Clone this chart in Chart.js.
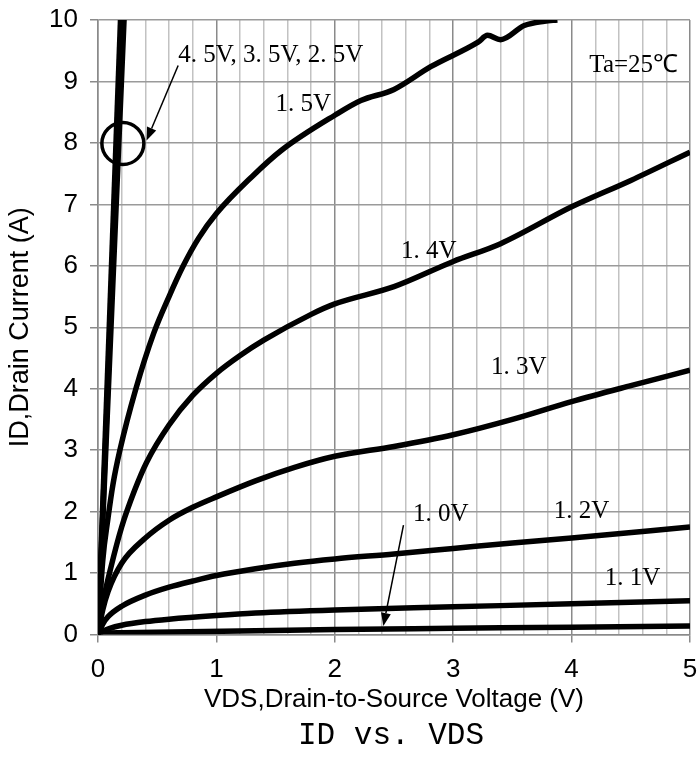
<!DOCTYPE html>
<html>
<head>
<meta charset="utf-8">
<script src="https://cdn.jsdelivr.net/npm/chart.js@4.4.1/dist/chart.umd.min.js"></script>
<style>
  body { margin: 0; background: #fff; }
  canvas { display: block; }
</style>
</head>
<body>
<canvas id="idVdsChart" width="697" height="764"></canvas>
<script>
// ID vs VDS output curves
const vds10 = [0, 0.05, 0.2, 1.33, 2, 3, 4, 5];
const id10 = [0, 0.02, 0.03, 0.06, 0.08, 0.10, 0.12, 0.14];

const vds11 = [0, 0.04, 0.1, 0.2, 0.4, 0.6, 1.0, 1.33, 2, 3, 4, 5];
const id11 = [0, 0.05, 0.1, 0.15, 0.21, 0.25, 0.31, 0.35, 0.40, 0.45, 0.50, 0.55];

const vds12 = [0, 0.04, 0.085, 0.2, 0.4, 0.6, 0.8, 1.0, 1.33, 1.66, 2.0, 2.5, 3.0, 3.5, 4.0, 5];
const id12 = [0, 0.17, 0.29, 0.46, 0.64, 0.77, 0.87, 0.96, 1.07, 1.16, 1.23, 1.31, 1.40, 1.49, 1.57, 1.75];

const vds13 = [0, 0.04, 0.085, 0.2, 0.4, 0.6, 0.8, 1.0, 1.33, 1.66, 2.0, 2.5, 3.0, 3.5, 4.0, 4.5, 5];
const id13 = [0, 0.4, 0.7, 1.16, 1.57, 1.86, 2.07, 2.24, 2.5, 2.72, 2.9, 3.06, 3.25, 3.5, 3.79, 4.05, 4.3];

const vds14 = [0, 0.04, 0.11, 0.2, 0.31, 0.41, 0.6, 0.8, 1.0, 1.2, 1.4, 1.8, 2.0, 2.5, 3.0, 3.4, 4.0, 4.5, 5];
const id14 = [0, 0.5, 1.1, 1.75, 2.35, 2.8, 3.41, 3.89, 4.25, 4.54, 4.79, 5.21, 5.38, 5.66, 6.07, 6.36, 6.96, 7.39, 7.85];

const vds15 = [0, 0.04, 0.085, 0.127, 0.185, 0.32, 0.47, 0.6, 0.72, 0.85, 1.0, 1.3, 1.55, 2.0, 2.22, 2.5, 2.81, 3.21, 3.29, 3.40, 3.6, 3.77, 3.88];
const id15 = [0, 1.2, 1.9, 2.45, 3.0, 4.0, 4.9, 5.5, 6.0, 6.45, 6.85, 7.45, 7.88, 8.45, 8.69, 8.87, 9.24, 9.64, 9.75, 9.68, 9.91, 9.98, 10.0];

// 4.5V, 3.5V and 2.5V are almost on top of each other
const vds25 = [0, 0.19];
const id25 = [0, 10];
const vds35 = [0, 0.205];
const id35 = [0, 10];
const vds45 = [0, 0.22];
const id45 = [0, 10];

const xTicks = [0, 1, 2, 3, 4, 5];
const yTicks = [0, 1, 2, 3, 4, 5, 6, 7, 8, 9, 10];

const curveLabels = [
    { text: '4. 5V, 3. 5V, 2. 5V', x: 0.677, y: 9.43 },
    { text: '1. 5V', x: 1.50, y: 8.62 },
    { text: '1. 4V', x: 2.56, y: 6.23 },
    { text: '1. 3V', x: 3.32, y: 4.35 },
    { text: '1. 2V', x: 3.85, y: 2.0 },
    { text: '1. 0V', x: 2.66, y: 1.95 },
    { text: '1. 1V', x: 4.28, y: 0.92 },
    { text: 'Ta=25\u2103', x: 4.15, y: 9.26 }
];

const arrows = [
    { from: [0.677, 9.26], to: [0.41, 8.04] },
    { from: [2.58, 1.78], to: [2.41, 0.14] }
];

const marker = { x: 0.21, y: 7.99, r: 21 };
const chartTitle = 'ID vs. VDS';

function toPoints(xs, ys) {
    return xs.map((x, i) => ({ x: x, y: ys[i] }));
}

function isMajor(v) {
    return Math.abs(v - Math.round(v)) < 1e-6;
}

function curve(xs, ys) {
    return {
        data: toPoints(xs, ys),
        borderColor: '#000',
        borderWidth: 5.5,
        pointRadius: 0,
        cubicInterpolationMode: 'monotone',
        clip: 0,
        fill: false
    };
}

const annotationPlugin = {
    id: 'annotations',
    afterDatasetsDraw(chart) {
        const ctx = chart.ctx;
        const xs = chart.scales.x;
        const ys = chart.scales.y;
        const area = chart.chartArea;
        ctx.save();
        ctx.fillStyle = '#000';
        ctx.strokeStyle = '#000';

        ctx.font = '25px "Liberation Serif", serif';
        ctx.textAlign = 'left';
        ctx.textBaseline = 'middle';
        curveLabels.forEach(l => {
            ctx.fillText(l.text, xs.getPixelForValue(l.x), ys.getPixelForValue(l.y));
        });

        ctx.lineWidth = 1.5;
        arrows.forEach(a => {
            const x1 = xs.getPixelForValue(a.from[0]), y1 = ys.getPixelForValue(a.from[1]);
            const x2 = xs.getPixelForValue(a.to[0]), y2 = ys.getPixelForValue(a.to[1]);
            const ang = Math.atan2(y2 - y1, x2 - x1);
            const len = 13, half = 5;
            const bx = x2 - len * Math.cos(ang), by = y2 - len * Math.sin(ang);
            ctx.beginPath();
            ctx.moveTo(x1, y1);
            ctx.lineTo(bx, by);
            ctx.stroke();
            ctx.beginPath();
            ctx.moveTo(x2, y2);
            ctx.lineTo(bx + half * Math.sin(ang), by - half * Math.cos(ang));
            ctx.lineTo(bx - half * Math.sin(ang), by + half * Math.cos(ang));
            ctx.closePath();
            ctx.fill();
        });

        ctx.lineWidth = 3.5;
        ctx.beginPath();
        ctx.arc(xs.getPixelForValue(marker.x), ys.getPixelForValue(marker.y), marker.r, 0, Math.PI * 2);
        ctx.stroke();

        // title under the x axis, centred on the plot area
        ctx.font = '31px "Liberation Mono", monospace';
        ctx.textAlign = 'center';
        ctx.fillText(chartTitle, (area.left + area.right) / 2 - 3, 736);
        ctx.restore();
    }
};

new Chart(document.getElementById('idVdsChart').getContext('2d'), {
    type: 'line',
    data: {
        datasets: [
            curve(vds10, id10),
            curve(vds11, id11),
            curve(vds12, id12),
            curve(vds13, id13),
            curve(vds14, id14),
            curve(vds15, id15),
            curve(vds25, id25),
            curve(vds35, id35),
            curve(vds45, id45)
        ]
    },
    options: {
        responsive: false,
        animation: false,
        layout: {
            padding: { top: 20, right: 7, left: 0, bottom: 44 }
        },
        plugins: {
            legend: { display: false },
            tooltip: { enabled: false }
        },
        scales: {
            x: {
                type: 'linear',
                min: 0,
                max: 5,
                afterFit(scale) {
                    scale.height = 85.5;
                    scale.paddingLeft = 0;
                    scale.paddingRight = 0;
                },
                ticks: {
                    stepSize: 0.2,
                    autoSkip: false,
                    maxRotation: 0,
                    padding: 12,
                    color: '#000',
                    font: { family: '"Liberation Sans", Arial, sans-serif', size: 26 },
                    callback: v => (isMajor(v) && xTicks.includes(Math.round(v))) ? String(Math.round(v)) : ''
                },
                grid: {
                    color: c => isMajor(c.tick.value) ? '#8a8a8a' : '#c2c2c2',
                    lineWidth: 1.5,
                    tickLength: 8,
                    tickColor: c => isMajor(c.tick.value) ? '#8a8a8a' : 'rgba(0,0,0,0)'
                },
                border: { color: '#8a8a8a', width: 1.5 },
                title: {
                    display: true,
                    text: 'VDS,Drain-to-Source Voltage (V)',
                    color: '#000',
                    font: { family: '"Liberation Sans", Arial, sans-serif', size: 26 },
                    padding: { top: 0, bottom: 5 }
                }
            },
            y: {
                type: 'linear',
                min: 0,
                max: 10,
                afterFit(scale) {
                    scale.width = 98;
                    scale.paddingTop = 0;
                    scale.paddingBottom = 0;
                },
                afterBuildTicks(scale) { scale.ticks = yTicks.map(v => ({ value: v })); },
                ticks: {
                    padding: 12,
                    color: '#000',
                    font: { family: '"Liberation Sans", Arial, sans-serif', size: 26 }
                },
                grid: {
                    color: '#9a9a9a',
                    lineWidth: 1.5,
                    tickLength: 8,
                    tickColor: '#8a8a8a'
                },
                border: { color: '#8a8a8a', width: 1.5 },
                title: {
                    display: true,
                    text: 'ID,Drain Current (A)',
                    color: '#000',
                    font: { family: '"Liberation Sans", Arial, sans-serif', size: 27 },
                    padding: { top: 4, bottom: 0 }
                }
            }
        }
    },
    plugins: [annotationPlugin]
});
</script>
</body>
</html>
